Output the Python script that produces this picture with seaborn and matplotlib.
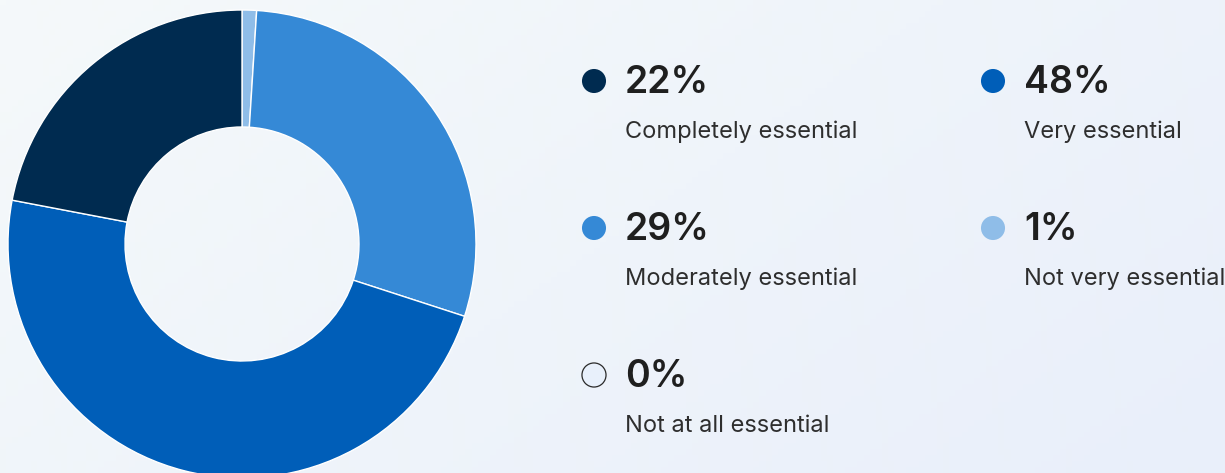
import numpy as np
import matplotlib
matplotlib.use("Agg")
import matplotlib.pyplot as plt
import seaborn as sns

# Survey answers, in the order the ring is drawn (clockwise from 12 o'clock)
ring_labels = ["Not very essential", "Moderately essential", "Very essential",
               "Completely essential", "Not at all essential"]
ring_values = [1, 29, 48, 22, 0]
ring_colors = ["#8fbde8", "#3589d6", "#005eb8", "#002b50", "#e8f0fb"]

# Legend layout: two columns, three rows
legend_order = ["Completely essential", "Very essential",
                "Moderately essential", "Not very essential",
                "Not at all essential"]
legend_pct = ["22%", "48%", "29%", "1%", "0%"]

W, H = 1225, 473
sns.set_theme(style="white")
plt.rcParams["font.family"] = ["Inter", "DejaVu Sans"]

fig = plt.figure(figsize=(W / 100, H / 100), dpi=100)

# Soft diagonal background wash
bg = fig.add_axes([0, 0, 1, 1], zorder=0)
gx, gy = np.meshgrid(np.linspace(0, 1, 200), np.linspace(0, 1, 80))
t = np.clip(0.65 * gx + 0.35 * gy, 0, 1)[..., None]
c0 = np.array([245, 249, 250]) / 255
c1 = np.array([233, 239, 250]) / 255
bg.imshow(c0 * (1 - t) + c1 * t, aspect="auto", extent=[0, 1, 0, 1], origin="upper")
bg.set_axis_off()

ax = fig.add_axes([0, 0, 1, 1], zorder=1)
ax.set_axis_off()
ax.patch.set_alpha(0)

# Donut ring (drawn in its own axes so the pie keeps its orientation)
cx, cy, R = 242, 244, 234
pie_ax = fig.add_axes([(cx - R) / W, 1 - (cy + R) / H, 2 * R / W, 2 * R / H], zorder=2)
vals = [v for v in ring_values if v > 0]
cols = [c for v, c in zip(ring_values, ring_colors) if v > 0]
pie_ax.pie(vals, colors=cols, startangle=90, counterclock=False, radius=1.0,
           wedgeprops=dict(width=0.5, edgecolor="white", linewidth=1.0))
pie_ax.set_xlim(-1, 1)
pie_ax.set_ylim(-1, 1)
pie_ax.set_aspect("equal")
pie_ax.set_axis_off()

# Legend entries
col_x = [594, 993]
row_y = [81, 228, 375]
color_of = dict(zip(ring_labels, ring_colors))
xs, ys, hues = [], [], []
for i, (lab, pct) in enumerate(zip(legend_order, legend_pct)):
    x = col_x[i % 2]
    y = row_y[i // 2]
    xs.append(x)
    ys.append(y)
    hues.append(lab)
    ax.text(x + 31, y + 2, pct, fontsize=27, fontweight="semibold", color="#1f1f1f",
            va="center", ha="left")
    ax.text(x + 31, y + 51, lab, fontsize=17, color="#2e2e2e",
            va="center", ha="left")

edge = ["#2a2a2a" if l == "Not at all essential" else "none" for l in hues]
sns.scatterplot(x=xs, y=ys, hue=hues, palette=color_of, s=300, ax=ax,
                legend=False, edgecolor=edge, linewidth=0.9, zorder=3)
ax.set_xlim(0, W)
ax.set_ylim(H, 0)
ax.set_axis_off()

fig.savefig("out.png", dpi=100)
